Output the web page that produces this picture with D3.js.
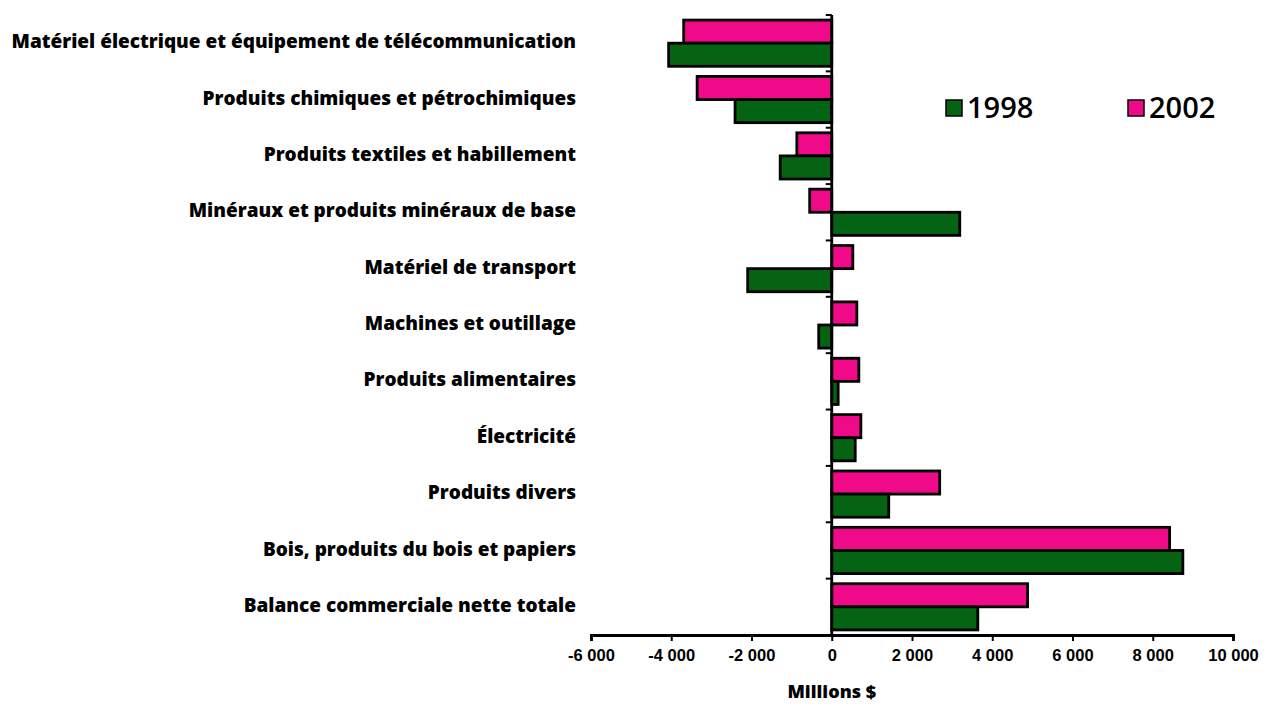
<!DOCTYPE html>
<html>
<head>
<meta charset="utf-8">
<script src="https://cdn.jsdelivr.net/npm/d3@7"></script>
<style>
  body { margin: 0; background: #fff; }
  svg { font-family: "Open Sans", "Lato", sans-serif; }
  .cat { font-size: 19px; font-weight: 800; }
  .tick text { font-size: 16.5px; font-weight: 800; }
  .legend { font-size: 29px; font-weight: 600; }
</style>
</head>
<body>
<svg id="chart" width="1265" height="705"></svg>
<script>
const categories = [
  "Matériel électrique et équipement de télécommunication",
  "Produits chimiques et pétrochimiques",
  "Produits textiles et habillement",
  "Minéraux et produits minéraux de base",
  "Matériel de transport",
  "Machines et outillage",
  "Produits alimentaires",
  "Électricité",
  "Produits divers",
  "Bois, produits du bois et papiers",
  "Balance commerciale nette totale",
];
const values1998 = [-4065, -2410, -1285, 3190, -2095, -325, 160, 585, 1420, 8750, 3640];
const values2002 = [-3690, -3355, -870, -550, 525, 625, 675, 725, 2690, 8420, 4880];
const series = ["2002", "1998"];
const seriesColors = { "1998": "#046414", "2002": "#F00A8A" };
const xTicks = [-6000, -4000, -2000, 0, 2000, 4000, 6000, 8000, 10000];

const svg = d3.select("#chart");
const m = { left: 591, top: 15 };
const W = 642, H = 620;
const g = svg.append("g").attr("transform", `translate(${m.left},${m.top})`);

const x = d3.scaleLinear().domain([-6000, 10000]).range([0, W]);
const y = d3.scaleBand().domain(categories).range([0, H]).paddingInner(0.18).paddingOuter(0.09);
const ySub = d3.scaleBand().domain(series).range([0, y.bandwidth()]);

const rows = categories.map((c, i) => ({ cat: c, "1998": values1998[i], "2002": values2002[i] }));

// bars, 2002 above 1998 in each row
const grp = g.selectAll("g.row").data(rows).join("g")
  .attr("class", "row")
  .attr("transform", (d) => `translate(0,${y(d.cat)})`);
grp.selectAll("rect")
  .data((d) => series.map((s) => ({ s, v: d[s] })))
  .join("rect")
  .attr("x", (d) => x(Math.min(0, d.v)))
  .attr("width", (d) => Math.abs(x(d.v) - x(0)))
  .attr("y", (d) => ySub(d.s))
  .attr("height", ySub.bandwidth())
  .attr("fill", (d) => seriesColors[d.s])
  .attr("stroke", "#000")
  .attr("stroke-width", 2.8);

// y axis line, ticks at band boundaries
const bounds = d3.range(categories.length + 1).map((i) => i * H / categories.length);
g.append("line")
  .attr("x1", x(0)).attr("x2", x(0))
  .attr("y1", 0).attr("y2", H)
  .attr("stroke", "#000").attr("stroke-width", 2.8);
g.selectAll("line.ytick").data(bounds).join("line")
  .attr("class", "ytick")
  .attr("x1", x(0) - 6).attr("x2", x(0))
  .attr("y1", (d) => d).attr("y2", (d) => d)
  .attr("stroke", "#000").attr("stroke-width", 2);

// category labels
g.selectAll("text.cat").data(categories).join("text")
  .attr("class", "cat")
  .attr("x", -15)
  .attr("y", (d, i) => bounds[i] + H / categories.length / 2)
  .attr("text-anchor", "end")
  .attr("dominant-baseline", "middle")
  .text((d) => d);

// x axis
const xAxis = g.append("g")
  .attr("transform", `translate(0,${H})`)
  .call(d3.axisBottom(x).tickValues(xTicks).tickSize(6).tickPadding(8)
    .tickFormat((d) => d3.format(",")(d).replace(/,/g, " ").replace("−", "-")));
xAxis.select(".domain").attr("stroke-width", 2.8);
xAxis.selectAll(".tick line").attr("stroke-width", 2);
xAxis.selectAll(".tick text").attr("fill", "#000");

svg.append("text")
  .attr("x", m.left + x(0))
  .attr("y", 698)
  .attr("text-anchor", "middle")
  .attr("font-size", "18px")
  .attr("font-weight", 800)
  .text("Millions $");

// legend
const legendItems = [{ s: "1998", x: 946 }, { s: "2002", x: 1128 }];
const lg = svg.selectAll("g.legend").data(legendItems).join("g")
  .attr("class", "legend")
  .attr("transform", (d) => `translate(${d.x},100)`);
lg.append("rect")
  .attr("width", 16).attr("height", 16)
  .attr("fill", (d) => seriesColors[d.s])
  .attr("stroke", "#000").attr("stroke-width", 1.5);
lg.append("text")
  .attr("x", 21).attr("y", 18)
  .text((d) => d.s);
</script>
</body>
</html>
